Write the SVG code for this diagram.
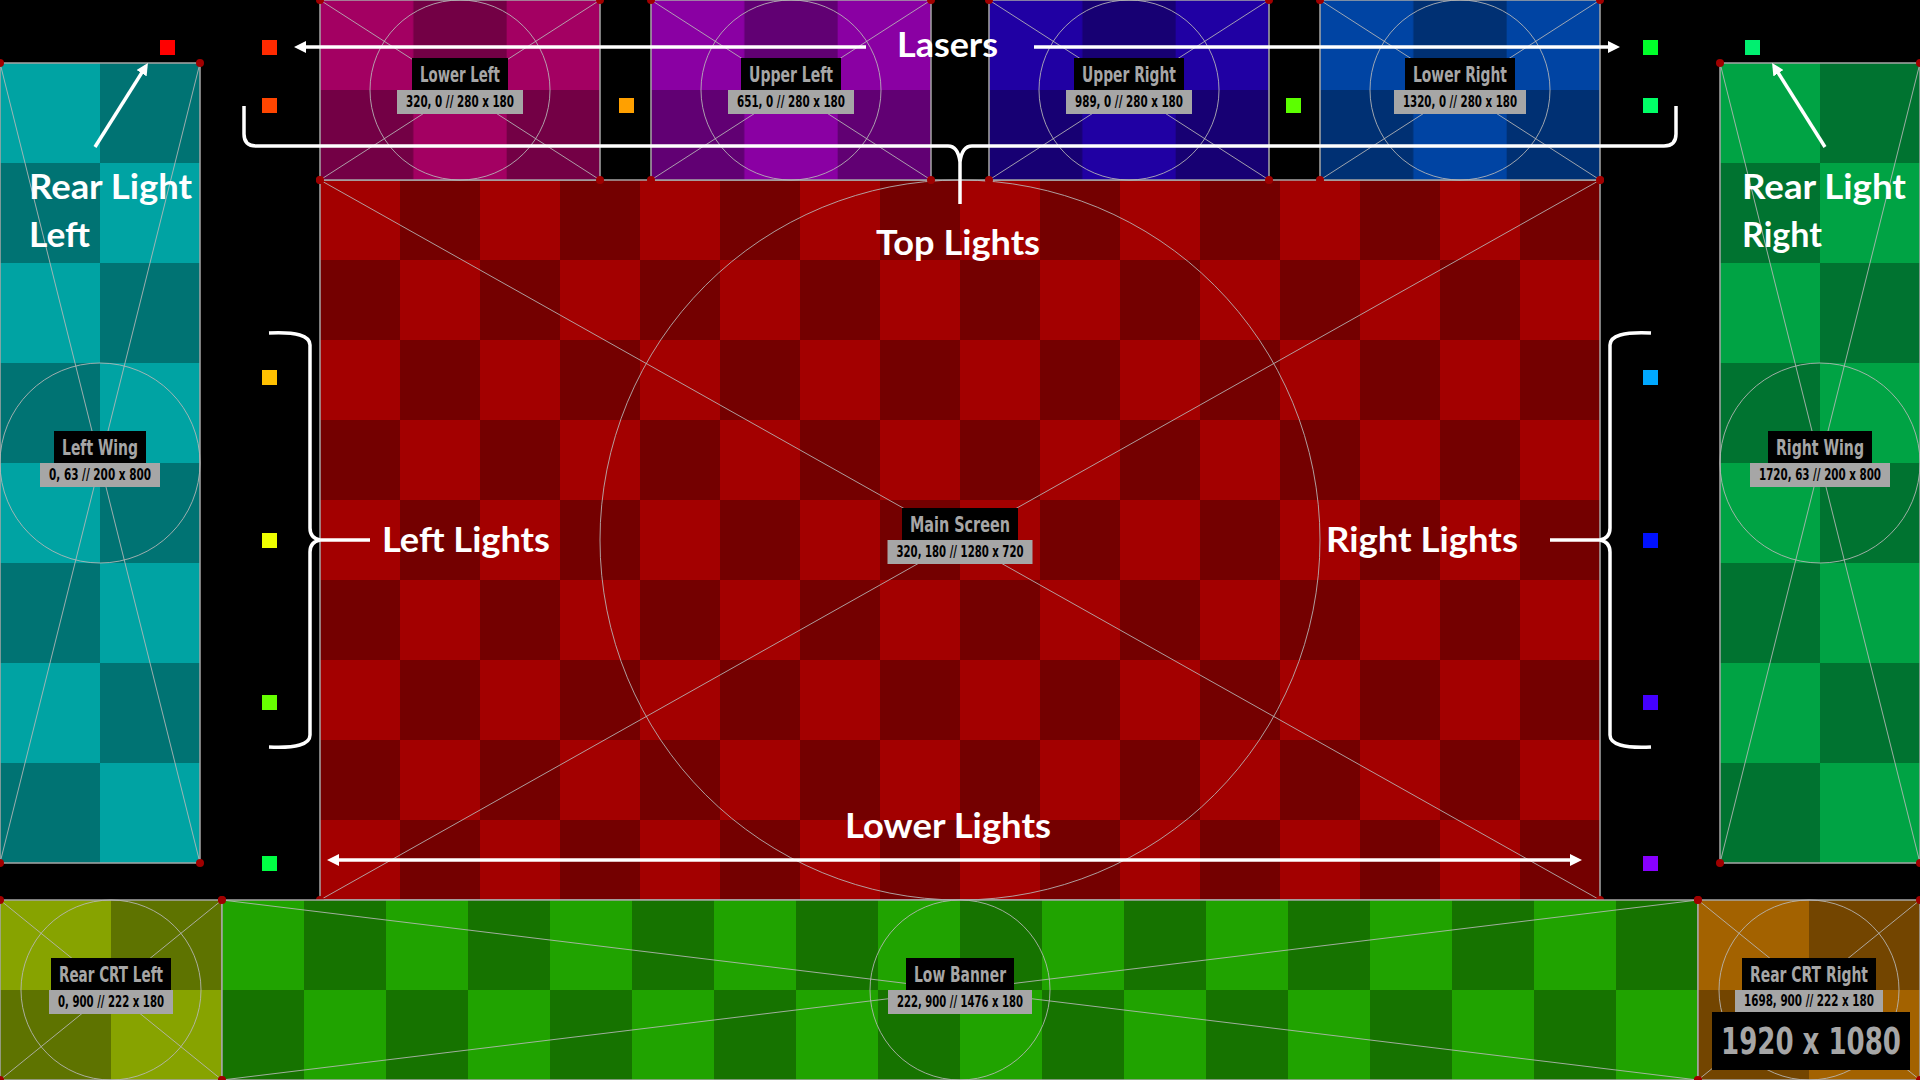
<svg xmlns="http://www.w3.org/2000/svg" width="1920" height="1080" viewBox="0 0 1920 1080">
<style>
.frame{stroke:#a6a6a6;stroke-width:1.5}
.guide{stroke:#b8b8b8;stroke-width:1;fill:none;opacity:.85}
.dot{fill:#a00000}
.nbox{fill:#000}
.ntext{fill:#a6a6a6;font-family:"Liberation Sans Narrow","DejaVu Sans Condensed","DejaVu Sans",sans-serif;font-weight:bold;font-size:22px}
.cbox{fill:#a6a6a6}
.ctext{fill:#000;font-family:"Liberation Sans Narrow","DejaVu Sans Condensed","DejaVu Sans",sans-serif;font-weight:bold;font-size:15px}
.ann{stroke:#fff;stroke-width:3.5;fill:none}
.atext{fill:#fff;font-family:Lato,"Open Sans","Noto Sans",sans-serif;font-weight:700;font-size:35px}
</style>
<defs>
<marker id="ah" markerUnits="userSpaceOnUse" viewBox="0 0 12 12" markerWidth="12" markerHeight="12" refX="8" refY="6" orient="auto-start-reverse"><path d="M0,0 L12,6 L0,12 z" fill="#fff"/></marker>
<pattern id="p-ll" patternUnits="userSpaceOnUse" x="320" y="0" width="186.667" height="180"><rect width="186.667" height="180" fill="#a30062"/><rect x="93.333" width="93.334" height="90" fill="#730045"/><rect y="90" width="93.333" height="90" fill="#730045"/></pattern>
<pattern id="p-ul" patternUnits="userSpaceOnUse" x="651" y="0" width="186.667" height="180"><rect width="186.667" height="180" fill="#8a00a3"/><rect x="93.333" width="93.334" height="90" fill="#610073"/><rect y="90" width="93.333" height="90" fill="#610073"/></pattern>
<pattern id="p-ur" patternUnits="userSpaceOnUse" x="989" y="0" width="186.667" height="180"><rect width="186.667" height="180" fill="#2000a3"/><rect x="93.333" width="93.334" height="90" fill="#170073"/><rect y="90" width="93.333" height="90" fill="#170073"/></pattern>
<pattern id="p-lr" patternUnits="userSpaceOnUse" x="1320" y="0" width="186.667" height="180"><rect width="186.667" height="180" fill="#0044a3"/><rect x="93.333" width="93.334" height="90" fill="#003073"/><rect y="90" width="93.333" height="90" fill="#003073"/></pattern>
<pattern id="p-main" patternUnits="userSpaceOnUse" x="320" y="180" width="160" height="160"><rect width="160" height="160" fill="#a30000"/><rect x="80" width="80" height="80" fill="#740000"/><rect y="80" width="80" height="80" fill="#740000"/></pattern>
<pattern id="p-lw" patternUnits="userSpaceOnUse" x="0" y="63" width="200" height="200"><rect width="200" height="200" fill="#00a3a3"/><rect x="100" width="100" height="100" fill="#007373"/><rect y="100" width="100" height="100" fill="#007373"/></pattern>
<pattern id="p-rw" patternUnits="userSpaceOnUse" x="1720" y="63" width="200" height="200"><rect width="200" height="200" fill="#00a344"/><rect x="100" width="100" height="100" fill="#007330"/><rect y="100" width="100" height="100" fill="#007330"/></pattern>
<pattern id="p-crtl" patternUnits="userSpaceOnUse" x="0" y="900" width="222" height="180"><rect width="222" height="180" fill="#87a300"/><rect x="111" width="111" height="90" fill="#5e7300"/><rect y="90" width="111" height="90" fill="#5e7300"/></pattern>
<pattern id="p-lb" patternUnits="userSpaceOnUse" x="222" y="900" width="164" height="180"><rect width="164" height="180" fill="#20a300"/><rect x="82" width="82" height="90" fill="#167300"/><rect y="90" width="82" height="90" fill="#167300"/></pattern>
<pattern id="p-crtr" patternUnits="userSpaceOnUse" x="1698" y="900" width="222" height="180"><rect width="222" height="180" fill="#a36200"/><rect x="111" width="111" height="90" fill="#734500"/><rect y="90" width="111" height="90" fill="#734500"/></pattern>
</defs>
<rect width="1920" height="1080" fill="#000"/>

<g id="main-screen">
<rect x="320" y="180" width="1280" height="720" fill="url(#p-main)" class="frame"/>
<path class="guide" d="M320,180 L1600,900 M1600,180 L320,900"/>
<circle class="guide" cx="960" cy="540" r="360"/>
<g class="dot"><circle cx="320" cy="180" r="4"/><circle cx="1600" cy="180" r="4"/><circle cx="320" cy="900" r="4"/><circle cx="1600" cy="900" r="4"/></g>
<rect class="nbox" x="902" y="508" width="116" height="32"/>
<text class="ntext" x="910" y="532" textLength="100" lengthAdjust="spacingAndGlyphs">Main Screen</text>
<rect class="cbox" x="887.5" y="540" width="145" height="24"/>
<text class="ctext" x="896.5" y="557" textLength="127" lengthAdjust="spacingAndGlyphs">320, 180 // 1280 x 720</text>
</g>

<g id="lower-left">
<rect x="320" y="0" width="280" height="180" fill="url(#p-ll)" class="frame"/>
<path class="guide" d="M320,0 L600,180 M600,0 L320,180"/>
<circle class="guide" cx="460" cy="90" r="90"/>
<g class="dot"><circle cx="320" cy="0" r="4"/><circle cx="600" cy="0" r="4"/><circle cx="320" cy="180" r="4"/><circle cx="600" cy="180" r="4"/></g>
<rect class="nbox" x="412" y="58" width="96" height="32"/>
<text class="ntext" x="420" y="82" textLength="80" lengthAdjust="spacingAndGlyphs">Lower Left</text>
<rect class="cbox" x="397" y="90" width="126" height="24"/>
<text class="ctext" x="406" y="107" textLength="108" lengthAdjust="spacingAndGlyphs">320, 0 // 280 x 180</text>
</g>

<g id="upper-left">
<rect x="651" y="0" width="280" height="180" fill="url(#p-ul)" class="frame"/>
<path class="guide" d="M651,0 L931,180 M931,0 L651,180"/>
<circle class="guide" cx="791" cy="90" r="90"/>
<g class="dot"><circle cx="651" cy="0" r="4"/><circle cx="931" cy="0" r="4"/><circle cx="651" cy="180" r="4"/><circle cx="931" cy="180" r="4"/></g>
<rect class="nbox" x="741" y="58" width="100" height="32"/>
<text class="ntext" x="749" y="82" textLength="84" lengthAdjust="spacingAndGlyphs">Upper Left</text>
<rect class="cbox" x="728" y="90" width="126" height="24"/>
<text class="ctext" x="737" y="107" textLength="108" lengthAdjust="spacingAndGlyphs">651, 0 // 280 x 180</text>
</g>

<g id="upper-right">
<rect x="989" y="0" width="280" height="180" fill="url(#p-ur)" class="frame"/>
<path class="guide" d="M989,0 L1269,180 M1269,0 L989,180"/>
<circle class="guide" cx="1129" cy="90" r="90"/>
<g class="dot"><circle cx="989" cy="0" r="4"/><circle cx="1269" cy="0" r="4"/><circle cx="989" cy="180" r="4"/><circle cx="1269" cy="180" r="4"/></g>
<rect class="nbox" x="1074" y="58" width="110" height="32"/>
<text class="ntext" x="1082" y="82" textLength="94" lengthAdjust="spacingAndGlyphs">Upper Right</text>
<rect class="cbox" x="1066" y="90" width="126" height="24"/>
<text class="ctext" x="1075" y="107" textLength="108" lengthAdjust="spacingAndGlyphs">989, 0 // 280 x 180</text>
</g>

<g id="lower-right">
<rect x="1320" y="0" width="280" height="180" fill="url(#p-lr)" class="frame"/>
<path class="guide" d="M1320,0 L1600,180 M1600,0 L1320,180"/>
<circle class="guide" cx="1460" cy="90" r="90"/>
<g class="dot"><circle cx="1320" cy="0" r="4"/><circle cx="1600" cy="0" r="4"/><circle cx="1320" cy="180" r="4"/><circle cx="1600" cy="180" r="4"/></g>
<rect class="nbox" x="1405" y="58" width="110" height="32"/>
<text class="ntext" x="1413" y="82" textLength="94" lengthAdjust="spacingAndGlyphs">Lower Right</text>
<rect class="cbox" x="1394" y="90" width="132" height="24"/>
<text class="ctext" x="1403" y="107" textLength="114" lengthAdjust="spacingAndGlyphs">1320, 0 // 280 x 180</text>
</g>

<g id="left-wing">
<rect x="0" y="63" width="200" height="800" fill="url(#p-lw)" class="frame"/>
<path class="guide" d="M0,63 L200,863 M200,63 L0,863"/>
<circle class="guide" cx="100" cy="463" r="100"/>
<g class="dot"><circle cx="0" cy="63" r="4"/><circle cx="200" cy="63" r="4"/><circle cx="0" cy="863" r="4"/><circle cx="200" cy="863" r="4"/></g>
<rect class="nbox" x="54" y="431" width="92" height="32"/>
<text class="ntext" x="62" y="455" textLength="76" lengthAdjust="spacingAndGlyphs">Left Wing</text>
<rect class="cbox" x="40" y="463" width="120" height="24"/>
<text class="ctext" x="49" y="480" textLength="102" lengthAdjust="spacingAndGlyphs">0, 63 // 200 x 800</text>
</g>

<g id="right-wing">
<rect x="1720" y="63" width="200" height="800" fill="url(#p-rw)" class="frame"/>
<path class="guide" d="M1720,63 L1920,863 M1920,63 L1720,863"/>
<circle class="guide" cx="1820" cy="463" r="100"/>
<g class="dot"><circle cx="1720" cy="63" r="4"/><circle cx="1920" cy="63" r="4"/><circle cx="1720" cy="863" r="4"/><circle cx="1920" cy="863" r="4"/></g>
<rect class="nbox" x="1768" y="431" width="104" height="32"/>
<text class="ntext" x="1776" y="455" textLength="88" lengthAdjust="spacingAndGlyphs">Right Wing</text>
<rect class="cbox" x="1750" y="463" width="140" height="24"/>
<text class="ctext" x="1759" y="480" textLength="122" lengthAdjust="spacingAndGlyphs">1720, 63 // 200 x 800</text>
</g>

<g id="rear-crt-left">
<rect x="0" y="900" width="222" height="180" fill="url(#p-crtl)" class="frame"/>
<path class="guide" d="M0,900 L222,1080 M222,900 L0,1080"/>
<circle class="guide" cx="111" cy="990" r="90"/>
<g class="dot"><circle cx="0" cy="900" r="4"/><circle cx="222" cy="900" r="4"/><circle cx="0" cy="1080" r="4"/><circle cx="222" cy="1080" r="4"/></g>
<rect class="nbox" x="51" y="958" width="120" height="32"/>
<text class="ntext" x="59" y="982" textLength="104" lengthAdjust="spacingAndGlyphs">Rear CRT Left</text>
<rect class="cbox" x="49" y="990" width="124" height="24"/>
<text class="ctext" x="58" y="1007" textLength="106" lengthAdjust="spacingAndGlyphs">0, 900 // 222 x 180</text>
</g>

<g id="low-banner">
<rect x="222" y="900" width="1476" height="180" fill="url(#p-lb)" class="frame"/>
<path class="guide" d="M222,900 L1698,1080 M1698,900 L222,1080"/>
<circle class="guide" cx="960" cy="990" r="90"/>
<g class="dot"><circle cx="222" cy="900" r="4"/><circle cx="1698" cy="900" r="4"/><circle cx="222" cy="1080" r="4"/><circle cx="1698" cy="1080" r="4"/></g>
<rect class="nbox" x="906" y="958" width="108" height="32"/>
<text class="ntext" x="914" y="982" textLength="92" lengthAdjust="spacingAndGlyphs">Low Banner</text>
<rect class="cbox" x="888" y="990" width="144" height="24"/>
<text class="ctext" x="897" y="1007" textLength="126" lengthAdjust="spacingAndGlyphs">222, 900 // 1476 x 180</text>
</g>

<g id="rear-crt-right">
<rect x="1698" y="900" width="222" height="180" fill="url(#p-crtr)" class="frame"/>
<path class="guide" d="M1698,900 L1920,1080 M1920,900 L1698,1080"/>
<circle class="guide" cx="1809" cy="990" r="90"/>
<g class="dot"><circle cx="1698" cy="900" r="4"/><circle cx="1920" cy="900" r="4"/><circle cx="1698" cy="1080" r="4"/><circle cx="1920" cy="1080" r="4"/></g>
<rect class="nbox" x="1742" y="958" width="134" height="32"/>
<text class="ntext" x="1750" y="982" textLength="118" lengthAdjust="spacingAndGlyphs">Rear CRT Right</text>
<rect class="cbox" x="1735" y="990" width="148" height="22"/>
<text class="ctext" x="1744" y="1006" textLength="130" lengthAdjust="spacingAndGlyphs">1698, 900 // 222 x 180</text>
</g>

<g id="resolution">
<rect class="nbox" x="1712" y="1012" width="198" height="58"/>
<text class="ntext" x="1721" y="1054" style="font-size:38px" textLength="180" lengthAdjust="spacingAndGlyphs">1920 x 1080</text>
</g>

<g id="lights">
<rect id="rear-light-left" x="160" y="40" width="15" height="15" fill="#ff0000"/>
<rect id="laser-left" x="262" y="40" width="15" height="15" fill="#ff2a00"/>
<rect id="top-1" x="262" y="98" width="15" height="15" fill="#ff4500"/>
<rect id="top-2" x="619" y="98" width="15" height="15" fill="#ffa000"/>
<rect id="top-3" x="1286" y="98" width="15" height="15" fill="#5cff00"/>
<rect id="top-4" x="1643" y="98" width="15" height="15" fill="#00ff66"/>
<rect id="laser-right" x="1643" y="40" width="15" height="15" fill="#00ff2a"/>
<rect id="rear-light-right" x="1745" y="40" width="15" height="15" fill="#00f070"/>
<rect id="left-1" x="262" y="370" width="15" height="15" fill="#ffc000"/>
<rect id="left-2" x="262" y="533" width="15" height="15" fill="#eeff00"/>
<rect id="left-3" x="262" y="695" width="15" height="15" fill="#66ff00"/>
<rect id="lower-left-light" x="262" y="856" width="15" height="15" fill="#00ff44"/>
<rect id="right-1" x="1643" y="370" width="15" height="15" fill="#00a8ff"/>
<rect id="right-2" x="1643" y="533" width="15" height="15" fill="#0011ff"/>
<rect id="right-3" x="1643" y="695" width="15" height="15" fill="#4400ff"/>
<rect id="lower-right-light" x="1643" y="856" width="15" height="15" fill="#8800ff"/>
</g>

<g id="connectors">
<path class="ann" d="M866,47 L298,47" marker-end="url(#ah)"/>
<path class="ann" d="M1034,47 L1616,47" marker-end="url(#ah)"/>
<path class="ann" d="M244,106 L244,134 Q244,146 256,146 L948,146 Q958,146 960,162 L960,204 M960,162 Q962,146 972,146 L1664,146 Q1676,146 1676,134 L1676,106"/>
<path class="ann" d="M269,333 Q310,331 310,345 L310,528 Q310,538 320,540 Q310,542 310,552 L310,735 Q310,749 269,747 M318,540 L370,540"/>
<path class="ann" d="M1651,333 Q1610,331 1610,345 L1610,528 Q1610,538 1600,540 Q1610,542 1610,552 L1610,735 Q1610,749 1651,747 M1602,540 L1550,540"/>
<path class="ann" d="M331,860 L1578,860" marker-start="url(#ah)" marker-end="url(#ah)"/>
<path class="ann" d="M95,147 L145.8,66.4" marker-end="url(#ah)"/>
<path class="ann" d="M1825,147 L1774.2,66.4" marker-end="url(#ah)"/>
</g>

<g id="annotations">
<text class="atext" x="897" y="57" textLength="101" lengthAdjust="spacingAndGlyphs">Lasers</text>
<text class="atext" x="876" y="255" textLength="164" lengthAdjust="spacingAndGlyphs">Top Lights</text>
<text class="atext" x="382" y="552" textLength="168" lengthAdjust="spacingAndGlyphs">Left Lights</text>
<text class="atext" x="1326" y="552" textLength="192" lengthAdjust="spacingAndGlyphs">Right Lights</text>
<text class="atext" x="845" y="838" textLength="206" lengthAdjust="spacingAndGlyphs">Lower Lights</text>
<text class="atext" x="29" y="199" textLength="163" lengthAdjust="spacingAndGlyphs">Rear Light</text>
<text class="atext" x="29" y="247" textLength="61" lengthAdjust="spacingAndGlyphs">Left</text>
<text class="atext" x="1742" y="199" textLength="164" lengthAdjust="spacingAndGlyphs">Rear Light</text>
<text class="atext" x="1742" y="247" textLength="80" lengthAdjust="spacingAndGlyphs">Right</text>
</g>
</svg>
